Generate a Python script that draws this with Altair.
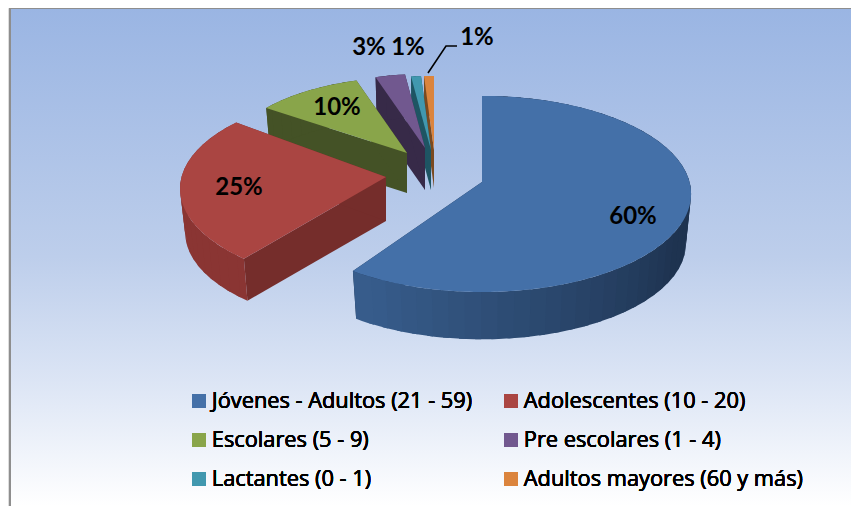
import math
import altair as alt
import pandas as pd

# ---- values
categories = ["Jóvenes - Adultos (21 - 59)", "Adolescentes (10 - 20)", "Escolares (5 - 9)",
              "Pre escolares (1 - 4)", "Lactantes (0 - 1)", "Adultos mayores (60 y más)"]
shares = [60, 25, 10, 3, 1, 1]
labels = ["60%", "25%", "10%", "3%", "1%", "1%"]
top_colors = ["#4470A8", "#AA4542", "#89A54A", "#71588F", "#4198AF", "#DB843D"]
side_colors = ["#1E3350", "#752D2B", "#445226", "#372A48", "#1E5563", "#7A4A20"]
side_light = ["#375C8B", "#8A3533", "#445226", "#372A48", "#1E5563", "#7A4A20"]

# ---- layout of the exploded 3D pie (reference pixel space)
W, H = 843, 498
apex = [(482, 182), (386, 177), (407, 153), (425, 148), (431, 150), (434, 150)]
radius_scale = [1.0, 0.985, 0.88, 0.86, 0.86, 0.86]
depths = [50, 44, 40, 42, 40, 38]
nudge_start = [0, 3, -1.5, 0, 0, 0]
nudge_end = [-2, 2, 0, 0, 0, 0]
RX, RY, P, BOTTOM = 207.5, 96.6, 0.122, 0.975
label_pos = [(633, 217), (239, 188), (337, 108), (369, 48), (408, 48), (477, 38)]
leader_x = [428, 446, 457]
leader_y = [73, 46, 46]


def project(a, ax, ay, rs, depth=0, shrink=1.0):
    t = math.radians(a)
    u, v = math.sin(t), -math.cos(t)
    w = 1 - P * v
    return ax + rs * shrink * RX * u / w, ay + depth + rs * shrink * RY * v / w


def mix(c1, c2, f):
    a = [int(c1[i:i + 2], 16) for i in (1, 3, 5)]
    b = [int(c2[i:i + 2], 16) for i in (1, 3, 5)]
    return "#%02x%02x%02x" % tuple(round(x + (y - x) * f) for x, y in zip(a, b))


# angles from shares
edges = [0]
for s in shares:
    edges.append(edges[-1] + 360 * s / sum(shares))

seq = 0


def add(target, name, pts, color=None):
    global seq
    key = f"{seq:04d}"
    seq += 1
    for i, (x, y) in enumerate(pts):
        target.append({"poly": key, "i": i, "x": x, "y": y, "cat": name, "shade": color})


order = [5, 4, 3, 2, 1, 0]
layers = []
for k in order:
    a0, a1 = edges[k] + nudge_start[k], edges[k + 1] + nudge_end[k]
    ax, ay = apex[k]
    rs, d = radius_scale[k], depths[k]
    A = (ax, ay)
    shade_rows = []
    for ang in (a0, a1):
        add(shade_rows, categories[k],
            [A, project(ang, ax, ay, rs), project(ang, ax, ay, rs, d, BOTTOM), (ax, ay + d)],
            side_colors[k])
    # outer wall, in overlapping strips so that it darkens from left to right
    n = max(2, int((a1 - a0) / 4))
    step = (a1 - a0) / n
    for j in range(n):
        b0 = a0 + step * j
        b1 = b0 + step
        mid = (b0 + b1) / 2
        f = max(0.0, min(1.0, (mid - 120) / 90))
        col = mix(side_colors[k], side_light[k], f)
        b_over = max(a0, b0 - min(1.5, step / 2))
        pts = [project(b_over + (b1 - b_over) * i / 3, ax, ay, rs) for i in range(4)]
        pts += [project(b1 - (b1 - b_over) * i / 3, ax, ay, rs, d, BOTTOM) for i in range(4)]
        add(shade_rows, categories[k], pts, col)
    top_pts = [A] + [project(a0 + (a1 - a0) * j / max(4, int(a1 - a0)), ax, ay, rs)
                     for j in range(max(4, int(a1 - a0)) + 1)]
    top_part = []
    add(top_part, categories[k], top_pts)
    layers.append((shade_rows, top_part))

x_scale = alt.Scale(domain=[8, 8 + W], nice=False, zero=False)
y_scale = alt.Scale(domain=[8, 8 + H], nice=False, zero=False, reverse=True)
X = alt.X("x:Q", scale=x_scale, axis=None)
Y = alt.Y("y:Q", scale=y_scale, axis=None)

bg_df = pd.DataFrame({"x": [11], "x2": [8 + W], "y": [8], "y2": [506]})
bg = alt.Chart(bg_df).mark_rect(
    color=alt.Gradient(gradient="linear", x1=0, y1=0, x2=0, y2=1,
                       stops=[alt.GradientStop(color="#9AB5E3", offset=0),
                              alt.GradientStop(color="#BDCEEB", offset=0.5),
                              alt.GradientStop(color="#DCE5F5", offset=0.75),
                              alt.GradientStop(color="#FFFFFF", offset=1)])
).encode(x=X, x2="x2:Q", y=Y, y2="y2:Q")

charts = [bg]
for shade_rows, top_part in layers:
    charts.append(alt.Chart(pd.DataFrame(shade_rows)).mark_line(filled=True, strokeWidth=0, opacity=1).encode(
        x=X, y=Y, order="i:Q", detail="poly:N",
        color=alt.Color("shade:N", scale=None)))
    charts.append(alt.Chart(pd.DataFrame(top_part)).mark_line(filled=True, opacity=1).encode(
        x=X, y=Y, order="i:Q", detail="poly:N",
        color=alt.Color("cat:N", scale=alt.Scale(domain=categories, range=top_colors),
                        legend=alt.Legend(orient="none", legendX=180, legendY=382, columns=2,
                                          direction="horizontal",
                                          title=None, symbolType="square", symbolSize=190,
                                          symbolStrokeWidth=0, labelFont="Open Sans", labelFontSize=21.8,
                                          labelFontWeight="normal",
                                          labelColor="#000000", columnPadding=27, rowPadding=16,
                                          labelLimit=400, labelOffset=2))))

lab_df = pd.DataFrame({"x": [p[0] for p in label_pos], "y": [p[1] for p in label_pos], "t": labels})
charts.append(alt.Chart(lab_df).mark_text(font="Lato", fontWeight="bold", fontSize=24, color="#000000",
                                          align="center", baseline="middle").encode(x=X, y=Y, text="t:N"))
lead_df = pd.DataFrame({"x": leader_x, "y": leader_y, "i": range(3)})
charts.append(alt.Chart(lead_df).mark_line(color="#000000", strokeWidth=1.6).encode(x=X, y=Y, order="i:Q"))
border_df = pd.DataFrame({"x": [10, 10], "y": [8, 506], "i": [0, 1]})
charts.append(alt.Chart(border_df).mark_line(color="#8E8E8E", strokeWidth=2).encode(x=X, y=Y, order="i:Q"))
border_top = pd.DataFrame({"x": [9, 8 + W], "y": [8.5, 8.5], "i": [0, 1]})
charts.append(alt.Chart(border_top).mark_line(color="#8E8E8E", strokeWidth=1).encode(x=X, y=Y, order="i:Q"))

chart = alt.layer(*charts).resolve_scale(color="independent").properties(
    width=W, height=H, padding=0, background="#FFFFFF"
).configure_view(stroke=None).configure(autosize=alt.AutoSizeParams(type="none"))
chart.save("out.html", embed_options={"renderer": "svg", "actions": False})
